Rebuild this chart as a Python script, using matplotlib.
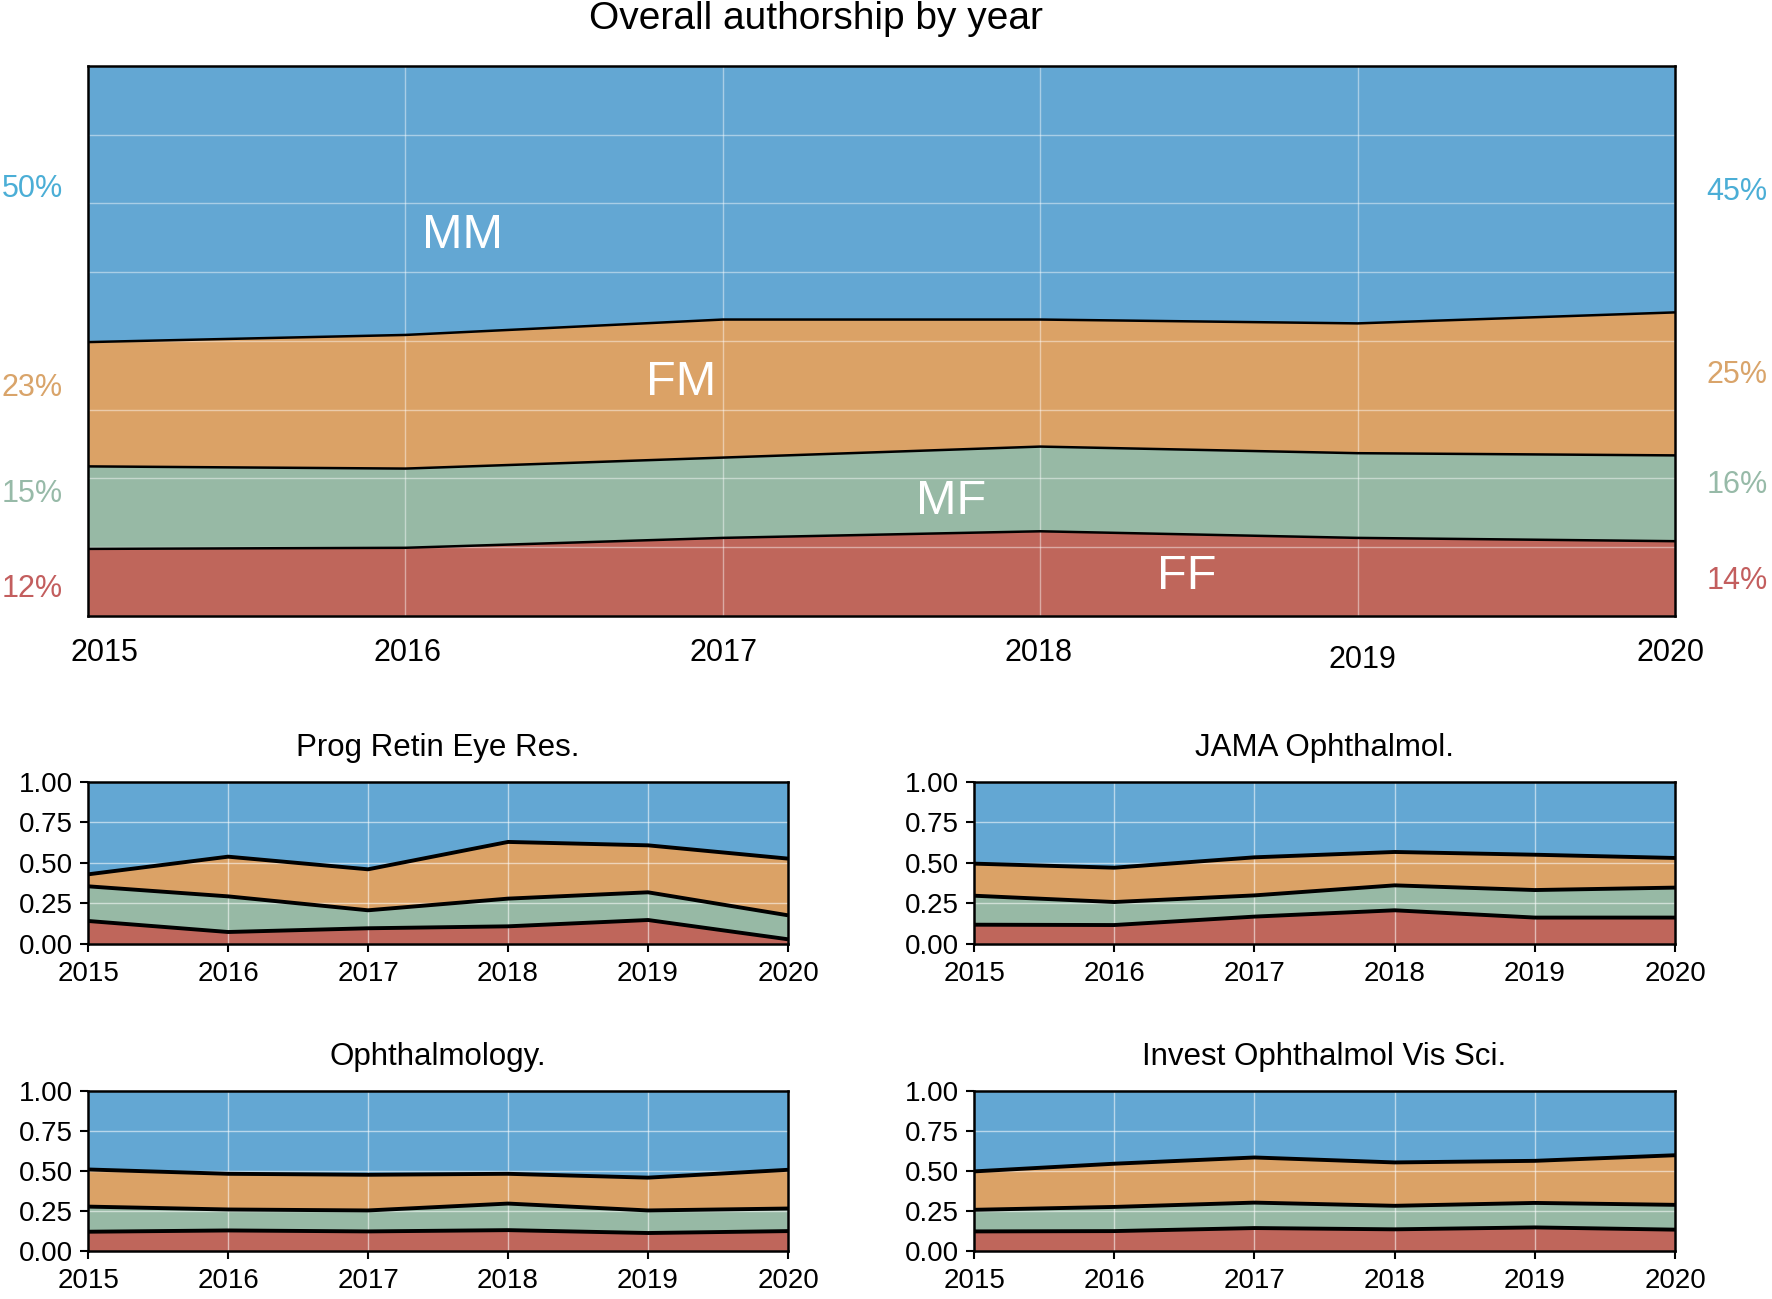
import matplotlib
matplotlib.use("Agg")
import matplotlib.pyplot as plt
import numpy as np
from matplotlib.transforms import ScaledTranslation

# ===================================== data =====================================

years = [2015, 2016, 2017, 2018, 2019, 2020]

# overall shares (FF, MF, FM; MM is the rest)
all_ff = [0.122, 0.124, 0.142, 0.154, 0.142, 0.136]
all_mf = [0.150, 0.144, 0.146, 0.154, 0.154, 0.156]
all_fm = [0.226, 0.243, 0.251, 0.231, 0.236, 0.260]

left_pct = ["50%", "23%", "15%", "12%"]
right_pct = ["45%", "25%", "16%", "14%"]

# per journal
prog_ff = [0.142, 0.074, 0.097, 0.109, 0.148, 0.029]
prog_mf = [0.214, 0.220, 0.111, 0.171, 0.171, 0.148]
prog_fm = [0.074, 0.245, 0.253, 0.350, 0.290, 0.350]

jama_ff = [0.119, 0.117, 0.169, 0.208, 0.163, 0.163]
jama_mf = [0.179, 0.142, 0.131, 0.154, 0.170, 0.185]
jama_fm = [0.198, 0.212, 0.235, 0.206, 0.218, 0.183]

ophth_ff = [0.120, 0.128, 0.122, 0.130, 0.112, 0.124]
ophth_mf = [0.157, 0.131, 0.131, 0.166, 0.141, 0.141]
ophth_fm = [0.232, 0.223, 0.223, 0.186, 0.205, 0.242]

iovs_ff = [0.122, 0.124, 0.143, 0.135, 0.147, 0.133]
iovs_mf = [0.135, 0.151, 0.159, 0.147, 0.153, 0.155]
iovs_fm = [0.240, 0.270, 0.282, 0.271, 0.263, 0.310]

journals = ["Prog Retin Eye Res.", "JAMA Ophthalmol.", "Ophthalmology.", "Invest Ophthalmol Vis Sci."]

# ===================================== style =====================================

colors = {"FF": "#BF665B", "MF": "#97B9A5", "FM": "#DBA266", "MM": "#63A7D3"}
pct_colors = ["#4BAED6", "#D9A46A", "#97BAA8", "#C35E5E"]

plt.rcParams["font.family"] = ["Liberation Sans", "DejaVu Sans"]

fig = plt.figure(figsize=(17.72, 12.99), dpi=100)


def stacked(ax, ff, mf, fm, lw):
    x = np.array(years)
    b0 = np.zeros(len(x))
    b1 = b0 + np.array(ff)
    b2 = b1 + np.array(mf)
    b3 = b2 + np.array(fm)
    b4 = np.ones(len(x))
    for lo, hi, key in [(b0, b1, "FF"), (b1, b2, "MF"), (b2, b3, "FM"), (b3, b4, "MM")]:
        ax.fill_between(x, lo, hi, color=colors[key], lw=0, zorder=1)
    for b in [b1, b2, b3]:
        ax.plot(x, b, color="black", lw=lw, zorder=3, solid_capstyle="butt")
    ax.set_xlim(years[0], years[-1])
    ax.set_ylim(0, 1)
    ax.set_axisbelow(False)
    for sp in ax.spines.values():
        sp.set_color("black")
        sp.set_linewidth(1.8)
        sp.set_zorder(4)


# ----- overall -----
ax = fig.add_axes([0.0497, 0.5258, 0.8956, 0.4234])
stacked(ax, all_ff, all_mf, all_fm, lw=1.8)
ax.set_yticks(np.arange(0, 1.001, 0.125))
ax.set_yticklabels([])
ax.tick_params(axis="y", length=0)
ax.set_xticks(years)
ax.set_xticklabels([str(y) for y in years], fontsize=22)
ax.tick_params(axis="x", length=0, pad=16)
ax.grid(color="white", alpha=0.45, lw=1.0)

# hand placed year labels as in the original
shifts = [(0.16, 0), (0.02, 0), (0.01, 0), (-0.02, 0), (0.05, -0.07), (-0.05, 0)]
for lab, (dx, dy) in zip(ax.get_xticklabels(), shifts):
    lab.set_transform(lab.get_transform() + ScaledTranslation(dx, dy, fig.dpi_scale_trans))

fig.text(0.4605, 0.985, "Overall authorship by year", fontsize=28, ha="center", va="center")

for txt, pos in zip(["MM", "FM", "MF", "FF"], [(2016.18, 0.692), (2016.87, 0.425), (2017.72, 0.209), (2018.46, 0.072)]):
    ax.text(pos[0], pos[1], txt, color="white", fontsize=35, ha="center", va="center", zorder=5)

for txt, c, y in zip(left_pct, pct_colors, [0.776, 0.415, 0.222, 0.049]):
    ax.text(-0.0353, y, txt, color=c, fontsize=22, ha="center", va="center", transform=ax.transAxes)
for txt, c, y in zip(right_pct, pct_colors, [0.770, 0.439, 0.238, 0.064]):
    ax.text(1.039, y, txt, color=c, fontsize=22, ha="center", va="center", transform=ax.transAxes)

# ----- per journal -----
panels = [
    ([0.0497, 0.2733, 0.395, 0.1247], prog_ff, prog_mf, prog_fm),
    ([0.5497, 0.2733, 0.3956, 0.1247], jama_ff, jama_mf, jama_fm),
    ([0.0497, 0.0370, 0.395, 0.1232], ophth_ff, ophth_mf, ophth_fm),
    ([0.5497, 0.0370, 0.3956, 0.1232], iovs_ff, iovs_mf, iovs_fm),
]

for title, (rect, ff, mf, fm) in zip(journals, panels):
    sax = fig.add_axes(rect)
    stacked(sax, ff, mf, fm, lw=2.8)
    sax.set_yticks([0, 0.25, 0.5, 0.75, 1.0])
    sax.set_yticklabels(["0.00", "0.25", "0.50", "0.75", "1.00"], fontsize=20)
    sax.set_xticks(years)
    sax.set_xticklabels([str(y) for y in years], fontsize=20)
    sax.tick_params(axis="both", length=6, width=1.5, color="black")
    sax.tick_params(axis="x", pad=6)
    sax.tick_params(axis="y", pad=5)
    sax.grid(color="white", alpha=0.55, lw=1.0)
    sax.set_title(title, fontsize=22.5, pad=19)

fig.savefig("out.png", dpi=100)
